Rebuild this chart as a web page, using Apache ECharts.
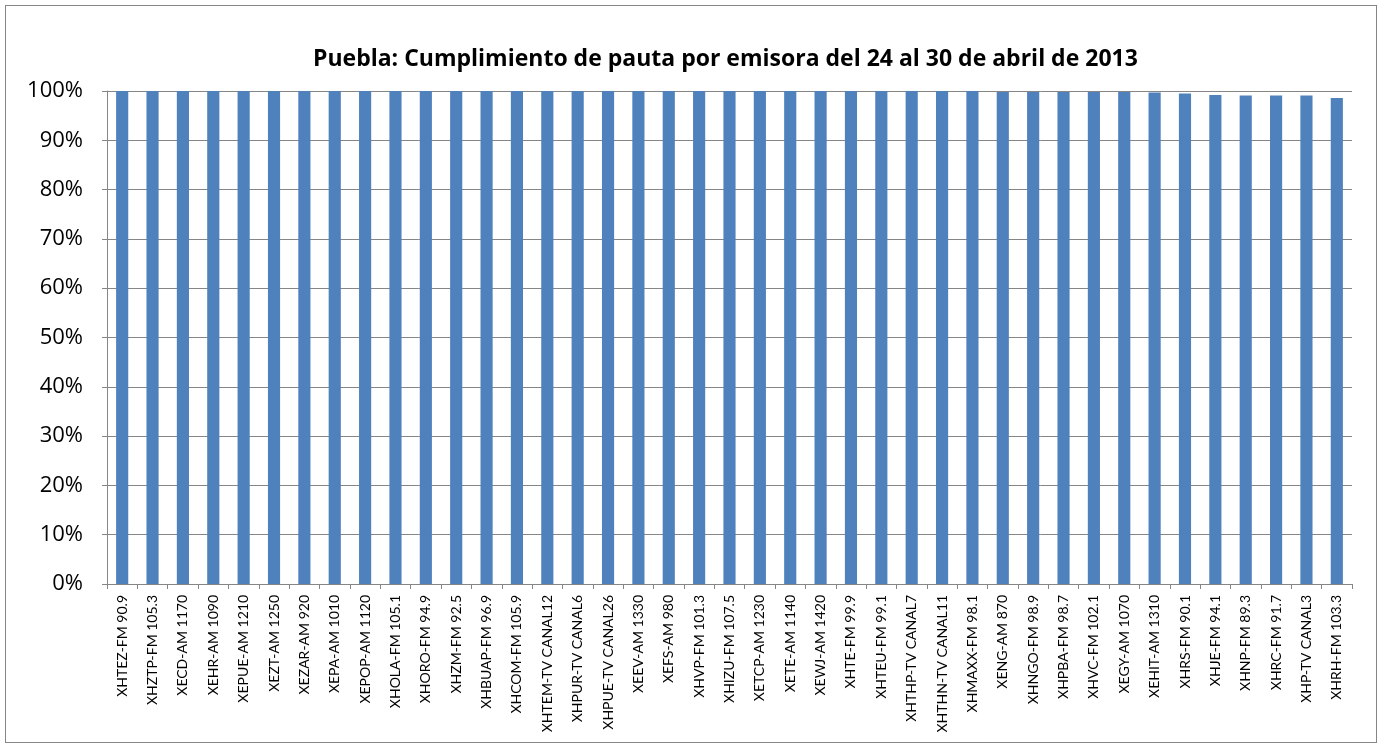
<!DOCTYPE html>
<html><head><meta charset="utf-8">
<script src="https://cdn.jsdelivr.net/npm/echarts@6/dist/echarts.min.js"></script>
<style>html,body{margin:0;padding:0;background:#fff}#c{width:1384px;height:748px}
#frame{position:absolute;left:5px;top:5px;width:1372px;height:738px;border:1px solid #868686;box-sizing:border-box;pointer-events:none}</style>
</head><body><div id="c"></div><div id="frame"></div>
<script>
const categories = ["XHTEZ-FM 90.9","XHZTP-FM 105.3","XECD-AM 1170","XEHR-AM 1090","XEPUE-AM 1210","XEZT-AM 1250","XEZAR-AM 920","XEPA-AM 1010","XEPOP-AM 1120","XHOLA-FM 105.1","XHORO-FM 94.9","XHZM-FM 92.5","XHBUAP-FM 96.9","XHCOM-FM 105.9","XHTEM-TV CANAL12","XHPUR-TV CANAL6","XHPUE-TV CANAL26","XEEV-AM 1330","XEFS-AM 980","XHVP-FM 101.3","XHIZU-FM 107.5","XETCP-AM 1230","XETE-AM 1140","XEWJ-AM 1420","XHTE-FM 99.9","XHTEU-FM 99.1","XHTHP-TV CANAL7","XHTHN-TV CANAL11","XHMAXX-FM 98.1","XENG-AM 870","XHNGO-FM 98.9","XHPBA-FM 98.7","XHVC-FM 102.1","XEGY-AM 1070","XEHIT-AM 1310","XHRS-FM 90.1","XHJE-FM 94.1","XHNP-FM 89.3","XHRC-FM 91.7","XHP-TV CANAL3","XHRH-FM 103.3"];
const values = [1,1,1,1,1,1,1,1,1,1,1,1,1,1,1,1,1,1,1,1,1,1,1,1,1,1,1,1,1,0.998,0.998,0.998,0.998,0.998,0.997,0.995,0.992,0.991,0.991,0.991,0.986];
const yTicks = [0,0.1,0.2,0.3,0.4,0.5,0.6,0.7,0.8,0.9,1];
const chart = echarts.init(document.getElementById('c'));
chart.setOption({
  animation:false,
  title:{text:'Puebla: Cumplimiento de pauta por emisora del 24 al 30 de abril de 2013',left:308,top:43,
    textStyle:{fontFamily:'Open Sans',fontWeight:'bold',fontSize:23,color:'#000'}},
  grid:{left:107,right:32,top:91,bottom:164},
  xAxis:{type:'category',data:categories,
    axisLine:{lineStyle:{color:'#868686'}},
    axisTick:{show:true,alignWithLabel:false,length:5,lineStyle:{color:'#868686'}},
    axisLabel:{rotate:90,interval:0,fontFamily:'Lato',fontSize:14,color:'#000',margin:11}},
  yAxis:{type:'value',min:0,max:1,interval:0.1,
    axisLine:{show:true,lineStyle:{color:'#868686'}},
    axisTick:{show:true,length:5,lineStyle:{color:'#868686'}},
    splitLine:{lineStyle:{color:'#868686',width:1}},
    axisLabel:{fontFamily:'Open Sans',fontSize:22,color:'#000',margin:24,
      formatter:v=>Math.round(v*100)+'%'}},
  series:[{type:'bar',data:values,barWidth:'40%',itemStyle:{color:'#4F81BD'}}]
});
</script></body></html>
